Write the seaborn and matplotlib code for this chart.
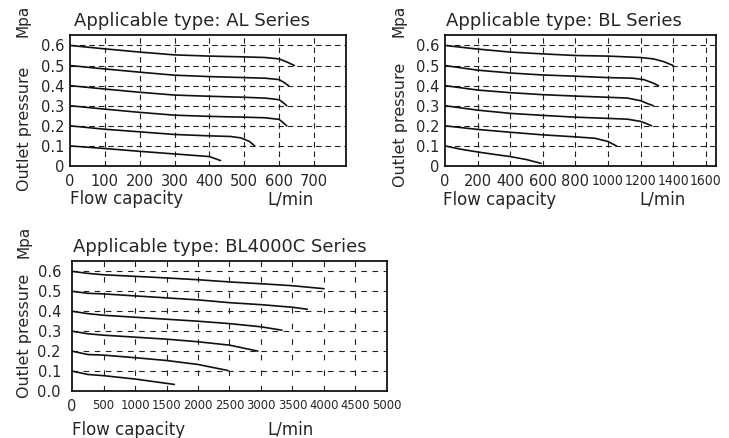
import seaborn as sns
import matplotlib.pyplot as plt
import matplotlib.font_manager as fm
import pandas as pd

# AL Series curves (flow L/min, outlet pressure MPa)
al_x = [
    [0, 100, 200, 300, 400, 500, 560, 600, 622, 644],
    [0, 100, 200, 300, 400, 500, 560, 600, 615, 627],
    [0, 100, 200, 300, 400, 500, 560, 600, 612, 622],
    [0, 100, 200, 300, 400, 500, 560, 600, 612, 622],
    [0, 100, 200, 300, 400, 460, 490, 515, 530],
    [0, 100, 200, 300, 400, 432],
]
al_y = [
    [0.6, 0.583, 0.567, 0.553, 0.547, 0.543, 0.540, 0.533, 0.518, 0.5],
    [0.5, 0.483, 0.467, 0.452, 0.445, 0.440, 0.437, 0.430, 0.415, 0.4],
    [0.4, 0.383, 0.367, 0.353, 0.347, 0.342, 0.338, 0.330, 0.315, 0.3],
    [0.3, 0.283, 0.267, 0.253, 0.247, 0.243, 0.240, 0.232, 0.215, 0.2],
    [0.2, 0.183, 0.170, 0.157, 0.150, 0.147, 0.140, 0.122, 0.1],
    [0.1, 0.087, 0.073, 0.060, 0.047, 0.027],
]

# BL Series curves
bl_x = [
    [0, 200, 400, 600, 800, 1000, 1200, 1280, 1340, 1400],
    [0, 200, 400, 600, 800, 1000, 1150, 1220, 1270, 1310],
    [0, 200, 400, 600, 800, 1000, 1120, 1200, 1245, 1278],
    [0, 200, 400, 600, 800, 1000, 1120, 1200, 1240, 1268],
    [0, 200, 400, 600, 800, 920, 1000, 1052],
    [0, 100, 200, 300, 400, 500, 590],
]
bl_y = [
    [0.6, 0.582, 0.567, 0.558, 0.550, 0.547, 0.540, 0.533, 0.520, 0.5],
    [0.5, 0.477, 0.463, 0.453, 0.447, 0.440, 0.437, 0.430, 0.415, 0.4],
    [0.4, 0.378, 0.365, 0.355, 0.348, 0.342, 0.338, 0.325, 0.310, 0.3],
    [0.3, 0.278, 0.262, 0.252, 0.243, 0.237, 0.233, 0.222, 0.210, 0.2],
    [0.2, 0.182, 0.168, 0.155, 0.145, 0.138, 0.122, 0.1],
    [0.1, 0.083, 0.070, 0.058, 0.047, 0.032, 0.013],
]

# BL4000C Series curves
c_x = [
    [0, 250, 500, 1000, 1500, 2000, 2500, 3000, 3500, 4000],
    [0, 250, 500, 1000, 1500, 2000, 2500, 3000, 3500, 3735],
    [0, 250, 500, 1000, 1500, 2000, 2500, 3000, 3333],
    [0, 250, 500, 1000, 1500, 2000, 2500, 2950],
    [0, 250, 500, 1000, 1500, 2000, 2473],
    [0, 250, 500, 1000, 1624],
]
c_y = [
    [0.6, 0.590, 0.583, 0.575, 0.567, 0.558, 0.547, 0.538, 0.528, 0.513],
    [0.5, 0.490, 0.487, 0.477, 0.467, 0.457, 0.443, 0.433, 0.420, 0.41],
    [0.4, 0.388, 0.380, 0.370, 0.360, 0.350, 0.338, 0.322, 0.305],
    [0.3, 0.287, 0.280, 0.270, 0.260, 0.247, 0.230, 0.2],
    [0.2, 0.183, 0.180, 0.167, 0.153, 0.133, 0.103],
    [0.1, 0.083, 0.077, 0.060, 0.033],
]

al_xticks = [0, 100, 200, 300, 400, 500, 600, 700]
bl_xticks = [0, 200, 400, 600, 800, 1000, 1200, 1400, 1600]
c_xticks = [0, 500, 1000, 1500, 2000, 2500, 3000, 3500, 4000, 4500, 5000]
yticks = [0, 0.1, 0.2, 0.3, 0.4, 0.5, 0.6]
y_labels_a = ['0', '0.1', '0.2', '0.3', '0.4', '0.5', '0.6']
y_labels_c = ['0.0', '0.1', '0.2', '0.3', '0.4', '0.5', '0.6']

sns.set_style('white')
plt.rcParams['font.family'] = ['DejaVu Sans']

# look for a condensed font for the crowded tick labels
narrow_file = None
for f in fm.fontManager.ttflist:
    tag = (f.name + ' ' + f.fname).lower()
    if 'mono' in tag or 'bold' in tag or 'italic' in tag or 'oblique' in tag:
        continue
    if 'narrow' in tag or 'condensed' in tag or str(f.stretch) in ('condensed', 'semi-condensed'):
        narrow_file = f.fname
        break


def narrow(size):
    if narrow_file:
        return fm.FontProperties(fname=narrow_file, size=size)
    return fm.FontProperties(family='DejaVu Sans', size=size - 1.5)


W, H = 729, 438
fig = plt.figure(figsize=(W / 100, H / 100), dpi=100)


def box(l, t, r, b):
    return [l / W, 1 - b / H, (r - l) / W, (b - t) / H]


def fx(p):
    return p / W


def fy(p):
    return 1 - p / H


def panel(rect, xs, ys, xticks, xlim, ylabels, vdash, hdash, narrow_from, nsize, ypad):
    ax = fig.add_axes(rect)
    rows = []
    for i, (cx, cy) in enumerate(zip(xs, ys)):
        for a, b in zip(cx, cy):
            rows.append({'flow': a, 'p': b, 'curve': i})
    df = pd.DataFrame(rows)
    sns.lineplot(data=df, x='flow', y='p', units='curve', estimator=None,
                 sort=False, color='#111111', lw=1.2, ax=ax)
    ax.set_xlim(*xlim)
    ax.set_ylim(0, 0.652)
    ax.set_xticks(xticks)
    ax.set_yticks(yticks)
    ax.set_yticklabels(ylabels, fontsize=10.5)
    labs = ax.set_xticklabels([str(v) for v in xticks])
    for v, lab in zip(xticks, labs):
        if v >= narrow_from and v > 0:
            lab.set_fontproperties(narrow(nsize))
        else:
            lab.set_fontsize(10.5)
    ax.tick_params(length=0)
    ax.tick_params(axis='x', pad=6)
    ax.tick_params(axis='y', pad=ypad)
    ax.set_xlabel('')
    ax.set_ylabel('')
    for v in xticks[1:]:
        if v < xlim[1]:
            ax.axvline(v, color='#222222', lw=0.8, linestyle=vdash, zorder=0)
    for v in yticks[1:]:
        ax.axhline(v, color='#222222', lw=0.8, linestyle=hdash, zorder=0)
    for s in ax.spines.values():
        s.set_color('black')
        s.set_linewidth(1.2)
    return ax


panel(box(70, 35, 346, 166), al_x, al_y, al_xticks, (0, 792), y_labels_a,
      (0, (5, 3.5)), (0, (5, 3.5)), 10000, 10, 4)
panel(box(445, 35, 716, 166), bl_x, bl_y, bl_xticks, (0, 1663), y_labels_a,
      (0, (5, 3.5)), (0, (5, 3.5)), 1000, 10, 4)
panel(box(72, 261, 387, 391), c_x, c_y, c_xticks, (0, 5000), y_labels_c,
      (0, (5, 9)), (0, (5, 5)), 500, 9.3, 8)

fig.text(fx(74), fy(26), 'Applicable type: AL Series', fontsize=13, va='baseline')
fig.text(fx(446), fy(26), 'Applicable type: BL Series', fontsize=13, va='baseline')
fig.text(fx(73), fy(252), 'Applicable type: BL4000C Series', fontsize=13, va='baseline')

for xm, ym, yo in [(23, 21, 129), (399, 21, 125), (24, 242, 336)]:
    fig.text(fx(xm), fy(ym), 'Mpa', rotation=90, ha='center', va='center', fontsize=11)
    fig.text(fx(xm + 1), fy(yo), 'Outlet pressure', rotation=90, ha='center',
             va='center', fontsize=11.5)

for xf, xl, yb in [(70, 267, 204), (443, 639, 205), (72, 267, 435)]:
    fig.text(fx(xf), fy(yb), 'Flow capacity', fontsize=12, va='baseline')
    fig.text(fx(xl), fy(yb), 'L/min', fontsize=12, va='baseline')

plt.savefig('out.png', dpi=100)
